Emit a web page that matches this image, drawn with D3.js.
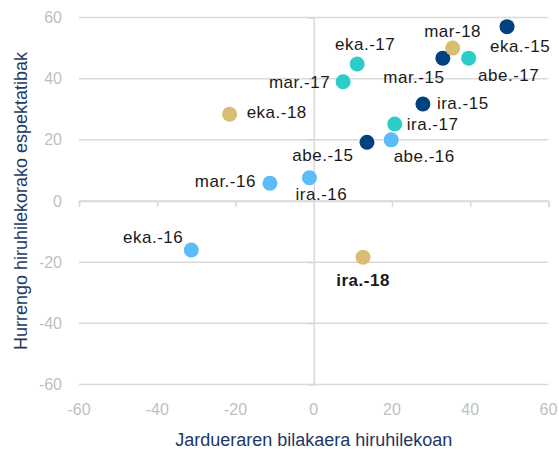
<!DOCTYPE html>
<html>
<head>
<meta charset="utf-8">
<script src="https://cdn.jsdelivr.net/npm/d3@7"></script>
<style>
  body { margin: 0; background: #fff; }
  svg { display: block; font-family: "Liberation Sans", Arial, sans-serif; }
</style>
</head>
<body>
<svg id="chart" width="559" height="450"></svg>
<script>
// ---- data ----
const labels = ["eka.-15","mar.-15","ira.-15","abe.-15",
                "eka.-16","mar.-16","ira.-16","abe.-16",
                "eka.-17","mar.-17","ira.-17","abe.-17",
                "eka.-18","mar-18","ira.-18"];
const activity = [49.4, 33.0, 27.9, 13.6,
                  -31.3, -11.2, -1.1, 19.8,
                  11.1, 7.5, 20.7, 39.6,
                  -21.5, 35.5, 12.6];
const expectations = [57.0, 46.7, 31.7, 19.2,
                      -16.0, 5.8, 7.6, 20.0,
                      44.8, 39.0, 25.2, 46.7,
                      28.4, 50.0, -18.4];
const years = ["2015","2015","2015","2015",
               "2016","2016","2016","2016",
               "2017","2017","2017","2017",
               "2018","2018","2018"];
const ticks = [-60, -40, -20, 0, 20, 40, 60];
const xTitle = "Jardueraren bilakaera hiruhilekoan";
const yTitle = "Hurrengo hiruhilekorako espektatibak";
const highlighted = ["ira.-18"];

// ---- styling / layout ----
const yearColor = { "2015": "#00427f", "2016": "#5bbcf8", "2017": "#2ccdc8", "2018": "#d8bd72" };
// label placement relative to each point (px): [anchor, dx, dy]
const labelLayout = {
  "eka.-15": ["middle", 13, 25], "mar-18": ["middle", 0, -11], "mar.-15": ["middle", -29, 25],
  "abe.-17": ["middle", 40, 23], "eka.-17": ["middle", 8, -14], "mar.-17": ["end", -13, 6],
  "ira.-15": ["start", 14, 5], "ira.-17": ["start", 12, 6], "abe.-15": ["middle", -44, 19],
  "abe.-16": ["middle", 33, 22], "ira.-16": ["middle", 12, 22], "mar.-16": ["end", -14, 4],
  "eka.-18": ["start", 17, 4], "eka.-16": ["end", -8, -7], "ira.-18": ["middle", 0, 29]
};

const svg = d3.select("#chart");
const x = d3.scaleLinear().domain([-60, 60]).range([79, 548.5]);
const y = d3.scaleLinear().domain([-60, 60]).range([384.5, 17.5]);
const grid = "#d9d9d9";

// horizontal gridlines
svg.append("g").selectAll("line").data(ticks).join("line")
  .attr("x1", x(-60)).attr("x2", x(60))
  .attr("y1", d => y(d)).attr("y2", d => y(d))
  .attr("stroke", grid).attr("stroke-width", 1.5);

// x axis at y=0
const xAxis = svg.append("g").attr("transform", `translate(0,${y(0)})`)
  .call(d3.axisBottom(x).tickValues(ticks).tickSize(6).tickFormat(""));
xAxis.select(".domain").attr("stroke", grid).attr("stroke-width", 1.5);
xAxis.selectAll(".tick line").attr("stroke", grid).attr("stroke-width", 1.5);

// y axis at x=0
const yAxis = svg.append("g").attr("transform", `translate(${x(0)},0)`)
  .call(d3.axisLeft(y).tickValues(ticks).tickSize(5).tickFormat(""));
yAxis.select(".domain").attr("stroke", grid).attr("stroke-width", 1.5);
yAxis.selectAll(".tick line").attr("stroke", grid).attr("stroke-width", 1.5);

// tick labels
svg.append("g").selectAll("text").data(ticks).join("text")
  .attr("x", 62).attr("y", d => y(d)).attr("dy", "0.35em")
  .attr("text-anchor", "end").attr("font-size", 16).attr("fill", "#bfbfbf")
  .text(d => d);
svg.append("g").selectAll("text").data(ticks).join("text")
  .attr("x", d => x(d)).attr("y", 415)
  .attr("text-anchor", "middle").attr("font-size", 16).attr("fill", "#bfbfbf")
  .text(d => d);

// axis titles
svg.append("text").attr("x", (x(-60) + x(60)) / 2).attr("y", 446)
  .attr("text-anchor", "middle").attr("font-size", 18).attr("fill", "#1f3864")
  .text(xTitle);
svg.append("text").attr("transform", `translate(27,${(y(-60) + y(60)) / 2}) rotate(-90)`)
  .attr("text-anchor", "middle").attr("font-size", 18).attr("fill", "#1f3864")
  .text(yTitle);

// points
const pts = labels.map((l, i) => ({ label: l, ax: activity[i], ex: expectations[i], year: years[i] }));
svg.append("g").selectAll("circle").data(pts).join("circle")
  .attr("cx", d => x(d.ax)).attr("cy", d => y(d.ex)).attr("r", 7.5)
  .attr("fill", d => yearColor[d.year]);

// labels
svg.append("g").selectAll("text").data(pts).join("text")
  .attr("x", d => x(d.ax) + labelLayout[d.label][1])
  .attr("y", d => y(d.ex) + labelLayout[d.label][2])
  .attr("text-anchor", d => labelLayout[d.label][0])
  .attr("font-size", 17).attr("letter-spacing", 0.5)
  .attr("font-weight", d => highlighted.includes(d.label) ? "bold" : "normal")
  .attr("fill", "#1a1a1a")
  .text(d => d.label);
</script>
</body>
</html>
